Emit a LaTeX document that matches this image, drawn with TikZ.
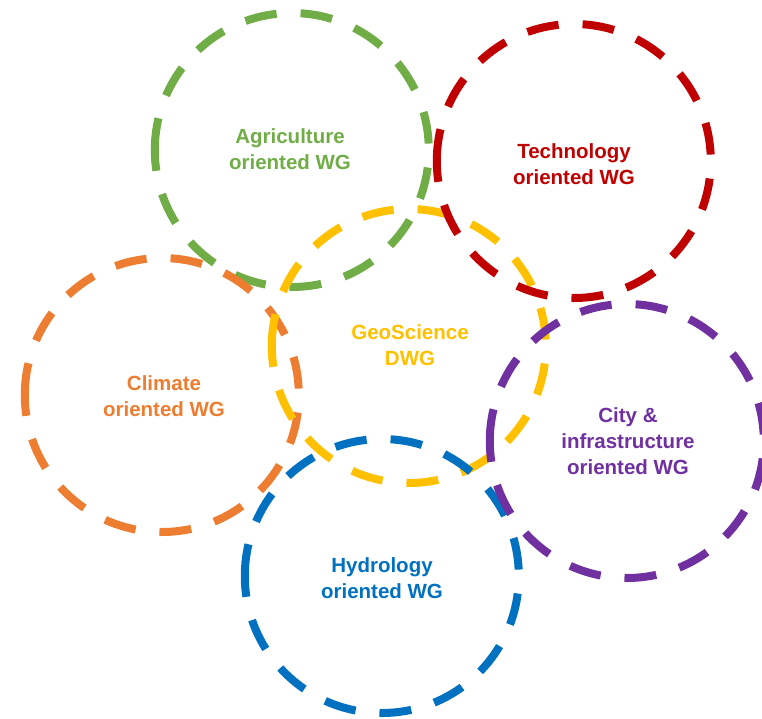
\documentclass[tikz,border=0pt]{standalone}
\usepackage{fontspec}
\setmainfont{Liberation Sans}
\definecolor{cgreen}{HTML}{70AD47}
\definecolor{cred}{HTML}{C00000}
\definecolor{cyellow}{HTML}{FFC000}
\definecolor{corange}{HTML}{ED7D31}
\definecolor{cpurple}{HTML}{7030A0}
\definecolor{cblue}{HTML}{0070C0}
\begin{document}
\begin{tikzpicture}[x=1pt,y=-1pt,
  hub/.style={circle, minimum size=274pt, inner sep=0pt},
  ring/.style={draw=#1, line width=8pt, dash pattern=on 32pt off 24pt},
  lab/.style={text=#1, font=\fontsize{20.5}{26}\selectfont\bfseries, align=center}]
\useasboundingbox (0,0) rectangle (762,718);
\node[hub] (climate) at (162,395) {};
\node[hub] (agri) at (292,150) {};
\node[hub] (tech) at (574,161) {};
\node[hub] (geo) at (409,346) {};
\node[hub] (hydro) at (382,576) {};
\node[hub] (city) at (627,441) {};
\draw[ring=cgreen] (agri.west) arc[start angle=180, end angle=-180, radius=137pt];
\draw[ring=corange] (climate.west) arc[start angle=180, end angle=-180, radius=137pt];
\draw[ring=cyellow] (geo.west) arc[start angle=180, end angle=-180, radius=137pt];
\draw[ring=cred] (tech.west) arc[start angle=180, end angle=-180, radius=137pt];
\draw[ring=cblue] (hydro.west) arc[start angle=180, end angle=-180, radius=137pt];
\draw[ring=cpurple] (city.west) arc[start angle=180, end angle=-180, radius=137pt];
\node[lab=cgreen] (agrit) at (290,149) {Agriculture\\oriented WG};
\node[lab=cred] (techt) at (574,164) {Technology\\oriented WG};
\node[lab=cyellow] (geot) at (410,345) {GeoScience\\DWG};
\node[lab=corange] (climt) at (164,396) {Climate\\oriented WG};
\node[lab=cpurple] (cityt) at (628,441) {City \&\\infrastructure\\oriented WG};
\node[lab=cblue] (hydrot) at (382,578) {Hydrology\\oriented WG};
\end{tikzpicture}
\end{document}
